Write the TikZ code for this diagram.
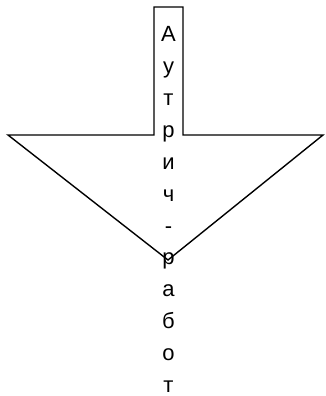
\documentclass[tikz,border=0pt]{standalone}
\usepackage{fontspec}
\setmainfont{Liberation Sans}
\usetikzlibrary{calc,positioning}
\tikzset{
    outline/.style={draw, line width=1.4pt, line join=miter},
    vlabel/.style={align=center, inner sep=0pt, font=\fontsize{22}{31.9}\selectfont}
}

\begin{document}
\begin{tikzpicture}[x=1pt, y=-1pt]
    \useasboundingbox (0,0) rectangle (325,396);

    % Corners
    \coordinate (TL) at (154,7);
    \coordinate (TR) at (183,7);
    \coordinate (SR) at (183,135);
    \coordinate (WR) at (323,135);
    \coordinate (tip) at (168,260);
    \coordinate (WL) at (8,135);
    \coordinate (SL) at (154,135);

    % arrow
    \draw[outline] (TL) -- (TR) -- (SR) -- (WR) -- (tip) -- (WL) -- (SL) -- cycle;

    % text
    \node[vlabel] (label) at (168.5,209.5) {А\\у\\т\\р\\и\\ч\\-\\р\\а\\б\\о\\т};
\end{tikzpicture}
\end{document}
